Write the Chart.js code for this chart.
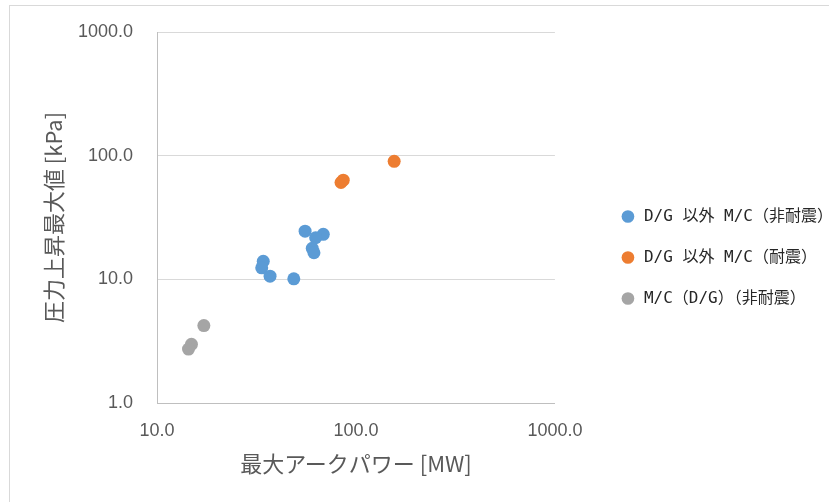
<!DOCTYPE html>
<html>
<head>
<meta charset="utf-8">
<script src="https://cdn.jsdelivr.net/npm/chart.js@4/dist/chart.umd.min.js"></script>
<style>
  html, body { margin: 0; padding: 0; background: #fff; }
  #frame {
    position: absolute; left: 9px; top: 5px;
    width: 820px; height: 497px;
    border-left: 1px solid #d9d9d9; border-top: 1px solid #d9d9d9;
  }
  #chart { display: block; }
</style>
</head>
<body>
<div id="frame"><canvas id="chart" width="819" height="496"></canvas></div>
<script>
// series names
const seriesNames = [
  'D/G 以外 M/C（非耐震）',
  'D/G 以外 M/C（耐震）',
  'M/C（D/G）（非耐震）',
]
const seriesColors = ['#5B9BD5', '#ED7D31', '#A5A5A5']

// D/G 以外 M/C（非耐震）
const blueX = [55.5, 68.5, 62.7, 60.3, 61.5, 34.2, 33.6, 37.0, 48.7]
const blueY = [24.5, 23.1, 21.7, 17.8, 16.4, 14.0, 12.4, 10.6, 10.1]
// D/G 以外 M/C（耐震）
const orangeX = [84.1, 86.3, 155.6]
const orangeY = [60.7, 63.4, 90.0]
// M/C（D/G）（非耐震）
const grayX = [17.2, 14.9, 14.4]
const grayY = [4.23, 2.98, 2.73]

// tick labels
const xTicks = [10, 100, 1000]
const yTicks = [1, 10, 100, 1000]

const xTitle = '最大アークパワー [MW]'
const yTitle = '圧力上昇最大値 [kPa]'

const toPoints = (xs, ys) => xs.map((x, i) => ({ x: x, y: ys[i] }))

const seriesData = [
  toPoints(blueX, blueY),
  toPoints(orangeX, orangeY),
  toPoints(grayX, grayY),
]

const tickFont = { family: "'Liberation Sans', 'Noto Sans CJK JP'", size: 18 }
const titleFont = { family: "'Noto Sans CJK JP'", size: 22 }
const axisGray = '#595959'

const chart = new Chart(document.getElementById('chart'), {
  type: 'scatter',
  data: {
    datasets: seriesNames.map((name, i) => ({
      label: name,
      data: seriesData[i],
      backgroundColor: seriesColors[i],
      borderWidth: 0,
      pointRadius: 6.5,
      pointHoverRadius: 6.5,
    }))
  },
  options: {
    responsive: false,
    animation: false,
    layout: { padding: { left: 30, top: 26, right: -14, bottom: 25 } },
    plugins: {
      tooltip: { enabled: false },
      legend: {
        position: 'right',
        maxWidth: 300,
        // empty title, only nudges the items down a little
        title: { display: true, text: '', font: { size: 5 }, padding: 0 },
        labels: {
          usePointStyle: true,
          pointStyle: 'circle',
          boxWidth: 16,
          boxHeight: 9,
          padding: 25,
          color: '#262626',
          font: { family: "'DejaVu Sans Mono', 'Noto Sans CJK JP'", size: 16 },
        }
      }
    },
    scales: {
      x: {
        type: 'logarithmic',
        min: 10,
        max: 1000,
        afterBuildTicks: s => { s.ticks = xTicks.map(v => ({ value: v })) },
        afterFit: s => { s.height = 74 },
        grid: { display: false, drawTicks: false },
        border: { display: true, color: '#bfbfbf', width: 1 },
        ticks: {
          padding: 17,
          color: axisGray,
          font: tickFont,
          maxRotation: 0,
          callback: v => Number(v).toFixed(1),
        },
        title: {
          display: true,
          text: xTitle,
          color: axisGray,
          font: titleFont,
          padding: { top: 10, bottom: 0 },
        },
      },
      y: {
        type: 'logarithmic',
        min: 1,
        max: 1000,
        afterBuildTicks: s => { s.ticks = yTicks.map(v => ({ value: v })) },
        afterFit: s => { s.width = 117 },
        grid: {
          display: true, color: '#d9d9d9', lineWidth: 1,
          drawTicks: true, tickLength: 24, tickColor: 'rgba(0,0,0,0)',
        },
        border: { display: true, color: '#bfbfbf', width: 1 },
        ticks: {
          padding: 0,
          color: axisGray,
          font: tickFont,
          callback: v => Number(v).toFixed(1),
        },
        title: {
          display: true,
          text: yTitle,
          color: axisGray,
          font: titleFont,
          padding: { top: 0, bottom: 12 },
        },
      },
      // empty gap between plot and legend
      gap: {
        type: 'linear',
        position: 'right',
        display: true,
        grid: { display: false, drawTicks: false },
        border: { display: false },
        ticks: { display: false },
        afterFit: s => { s.width = 40 },
      },
    }
  }
})
</script>
</body>
</html>
